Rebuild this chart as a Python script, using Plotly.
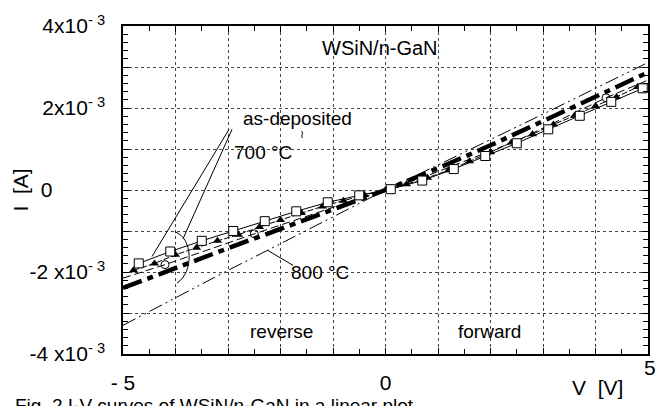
import plotly.graph_objects as go

# Applied bias [V] and measured current [A] for each anneal condition
v_sq = [-4.7, -4.1, -3.5, -2.9, -2.3, -1.7, -1.1, -0.5, 0.1, 0.7, 1.3, 1.9, 2.5, 3.1, 3.7, 4.3, 4.9]
i_sq = [-1.79e-3, -1.50e-3, -1.24e-3, -1.00e-3, -0.76e-3, -0.52e-3, -0.30e-3, -0.13e-3, 0.02e-3,
        0.23e-3, 0.51e-3, 0.83e-3, 1.14e-3, 1.48e-3, 1.81e-3, 2.15e-3, 2.48e-3]

v_tri = [-4.8, -4.4, -4.0, -3.6, -3.2, -2.8, -2.4, -2.0, -1.6, -1.2, -0.8, -0.4, 0.0,
         0.4, 0.8, 1.2, 1.6, 2.0, 2.4, 2.8, 3.2, 3.6, 4.0, 4.4, 4.8]
i_tri = [-1.96e-3, -1.79e-3, -1.58e-3, -1.41e-3, -1.24e-3, -1.09e-3, -0.90e-3, -0.73e-3, -0.56e-3,
         -0.40e-3, -0.26e-3, -0.12e-3, 0.0, 0.14e-3, 0.30e-3, 0.48e-3, 0.70e-3, 0.92e-3, 1.16e-3,
         1.36e-3, 1.60e-3, 1.81e-3, 2.05e-3, 2.27e-3, 2.51e-3]

v_cir = [-5.0, -4.2, -2.5, -0.8, 0.0, 0.8, 2.5, 4.2, 5.0]
i_cir = [-2.15e-3, -1.82e-3, -1.07e-3, -0.33e-3, 0.0, 0.35e-3, 1.20e-3, 2.25e-3, 2.68e-3]
v_cir_mk = [-4.2, -2.5, 4.2]
i_cir_mk = [-1.82e-3, -1.07e-3, 2.25e-3]

v_thick = [-5, -4, -3, -2, -1, 0, 1, 2, 3, 4, 5]
i_thick = [-2.39e-3, -1.90e-3, -1.42e-3, -0.95e-3, -0.47e-3, 0.0, 0.53e-3, 1.09e-3, 1.68e-3, 2.27e-3, 2.87e-3]

v_800 = [-5, -4, -3, -2, -1, 0, 1, 2, 3, 4, 5]
i_800 = [-3.30e-3, -2.62e-3, -1.96e-3, -1.31e-3, -0.65e-3, 0.0, 0.61e-3, 1.22e-3, 1.85e-3, 2.48e-3, 3.11e-3]

y_tickvals = [-4e-3, -3e-3, -2e-3, -1e-3, 0, 1e-3, 2e-3, 3e-3, 4e-3]
y_ticktext = ["-4 x10<sup>- 3</sup>", "", "-2 x10<sup>- 3</sup>", "", "0" + "\u00a0" * 9, "",
              "2x10<sup>- 3</sup>", "", "4x10<sup>- 3</sup>"]
x_tickvals = [-5, -4, -3, -2, -1, 0, 1, 2, 3, 4, 5]
x_ticktext = ["- 5", "", "", "", "", "0", "", "", "", "", ""]

FONT = "Liberation Sans, Arial, sans-serif"
W, H = 668, 406
L, R, T, B = 123, 20, 25, 48

fig = go.Figure()

fig.add_trace(go.Scatter(x=v_800, y=i_800, mode="lines",
                         line=dict(color="black", width=1, dash="14px,4px,2px,4px,2px,4px")))
fig.add_trace(go.Scatter(x=v_thick, y=i_thick, mode="lines",
                         line=dict(color="black", width=4.5, dash="20px,6px,6px,6px")))
fig.add_trace(go.Scatter(x=v_cir, y=i_cir, mode="lines",
                         line=dict(color="black", width=1, dash="8px,4px")))
fig.add_trace(go.Scatter(x=v_cir_mk, y=i_cir_mk, mode="markers",
                         marker=dict(symbol="circle-open", size=8, color="black", line=dict(width=1))))
fig.add_trace(go.Scatter(x=v_tri, y=i_tri, mode="lines+markers",
                         line=dict(color="black", width=1, dash="6px,2px"),
                         marker=dict(symbol="triangle-up", size=8, color="black")))
fig.add_trace(go.Scatter(x=v_sq, y=i_sq, mode="lines+markers",
                         line=dict(color="black", width=1),
                         marker=dict(symbol="square", size=9, color="white",
                                     line=dict(color="black", width=1))))


def px(xp):
    return (xp - L) / (W - L - R)


def py(yp):
    return (H - B - yp) / (H - T - B)


def dv(xp):
    return (xp - 385.5) / 52.5


def di(yp):
    return (191.5 - yp) / 41.625 * 1e-3


def ann(text, xp, yp, size=19, xanchor="center", yanchor="middle", **kw):
    fig.add_annotation(text=text, x=px(xp), y=py(yp), xref="paper", yref="paper",
                       xanchor=xanchor, yanchor=yanchor, showarrow=False,
                       font=dict(family=FONT, size=size, color="black"), **kw)


ann("WSiN/n-GaN", 380, 47, size=20)
ann("as-deposited", 297, 119)
ann("\u2240", 302, 135, size=11)
ann("700 \u00b0C", 263, 153)
ann("800 \u00b0C", 320, 275)
ann("reverse", 281, 335)
ann("forward", 489, 335)
ann("5", 650, 372, size=21)
ann("V  [V]", 597, 392, size=21)
ann("I  [A]", 20, 192, size=21, textangle=-90)
ann("Fig. 2 I-V curves of WSiN/n-GaN in a linear plot", 13, 398, size=19,
    xanchor="left", yanchor="top")

# leader lines and the bracket arc grouping the low-temperature curves
line_style = dict(color="black", width=1)
fig.add_shape(type="line", xref="x", yref="y", x0=dv(232), y0=di(130), x1=dv(183), y1=di(241),
              line=line_style)
fig.add_shape(type="line", xref="x", yref="y", x0=dv(229), y0=di(130), x1=dv(152), y1=di(259),
              line=line_style)
fig.add_shape(type="line", xref="x", yref="y", x0=dv(293), y0=di(268), x1=dv(268), y1=di(253),
              line=line_style)
fig.add_shape(type="path", xref="x", yref="y",
              path=f"M {dv(175)},{di(234)} C {dv(193)},{di(240)} {dv(194)},{di(275)} {dv(177)},{di(286)}",
              line=line_style)

fig.update_layout(
    width=W, height=H,
    margin=dict(l=L, r=R, t=T, b=B, pad=0),
    paper_bgcolor="white", plot_bgcolor="white",
    showlegend=False,
    font=dict(family=FONT, size=18, color="black"),
)
fig.update_xaxes(
    range=[-5, 5], tickvals=x_tickvals, ticktext=x_ticktext,
    ticks="inside", ticklen=6, tickcolor="black", tickwidth=1,
    showgrid=True, gridcolor="#444", griddash="dot", gridwidth=1,
    showline=True, linecolor="black", linewidth=1.5, mirror="allticks",
    zeroline=False, tickfont=dict(size=21), ticklabelstandoff=9,
    minor=dict(dtick=0.5, tick0=0, ticks="inside", ticklen=5, tickcolor="black", showgrid=False),
)
fig.update_yaxes(
    range=[-4e-3, 4e-3], tickvals=y_tickvals, ticktext=y_ticktext,
    ticks="inside", ticklen=6, tickcolor="black", tickwidth=1,
    showgrid=True, gridcolor="#444", griddash="dot", gridwidth=1,
    showline=True, linecolor="black", linewidth=1.5, mirror="allticks",
    zeroline=False, tickfont=dict(size=21), ticklabelstandoff=12,
    minor=dict(dtick=0.2e-3, tick0=0, ticks="inside", ticklen=5, tickcolor="black", showgrid=False),
)

fig.write_html("out.html")
